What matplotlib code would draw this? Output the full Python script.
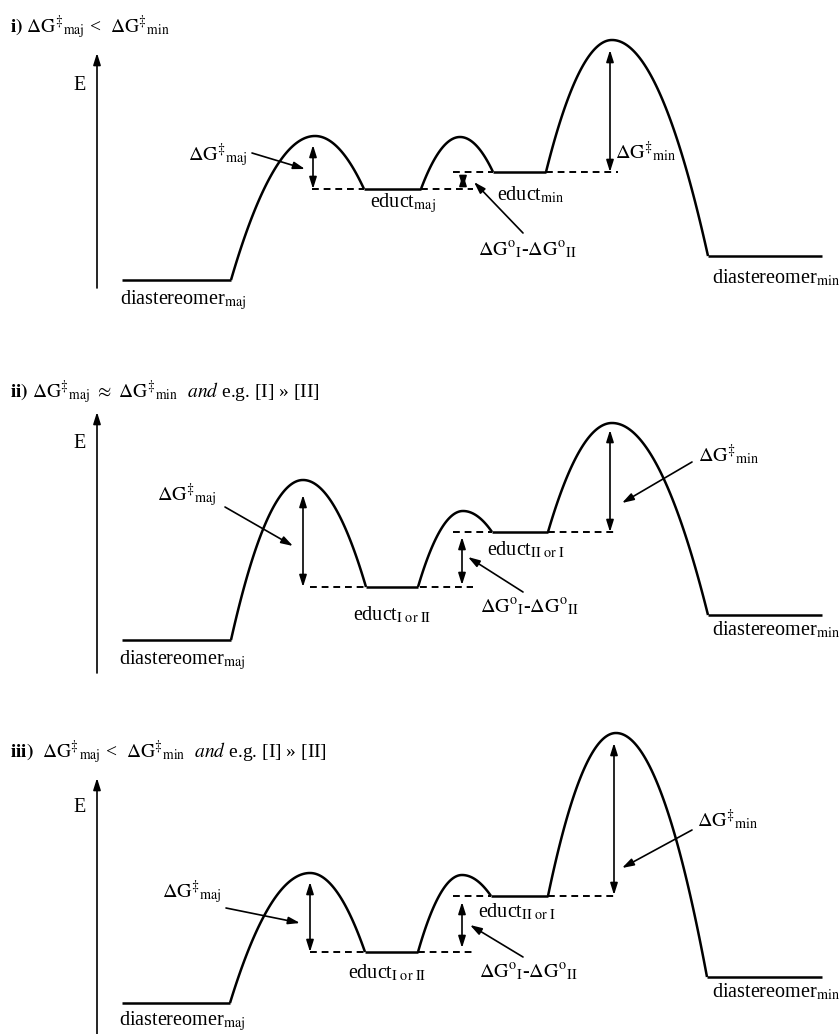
import numpy as np
import matplotlib.pyplot as plt

plt.rcParams['font.family'] = ['Liberation Serif', 'DejaVu Serif']
plt.rcParams['mathtext.fontset'] = 'stix'

# pixel bands (top, bottom) of the three panels
bands = [(0, 340), (340, 690), (690, 1034)]

dg_maj = r'$\Delta\mathrm{G}^{\ddagger}{}_{\mathrm{maj}}$'
dg_min = r'$\Delta\mathrm{G}^{\ddagger}{}_{\mathrm{min}}$'
dg_diff = r'$\Delta\mathrm{G}^{\mathrm{o}}{}_{\mathrm{I}}$-$\Delta\mathrm{G}^{\mathrm{o}}{}_{\mathrm{II}}$'

titles = [
    r'$\mathbf{i)}$ ' + dg_maj + ' <  ' + dg_min,
    r'$\mathbf{ii)}$ ' + dg_maj + r' $\approx$ ' + dg_min + r'  $\mathit{and}$ e.g. [I] » [II]',
    r'$\mathbf{iii)}$  ' + dg_maj + ' <  ' + dg_min + r'  $\mathit{and}$ e.g. [I] » [II]',
]
title_pos = [(10, 313), (10, 298), (10, 282)]

# minima: diastereomer_maj, educt_a, educt_b, diastereomer_min
plateau_x = [
    [(122, 231), (364, 421), (493, 546), (708, 822)],
    [(122, 231), (366, 418), (492, 548), (708, 822)],
    [(122, 230), (365, 418), (491, 548), (707, 822)],
]
min_E = [[60, 151, 168, 84], [50, 103, 158, 75], [31, 82, 138, 57]]
# transition states
peak_x = [[315, 460, 612], [303, 463, 612], [310, 462, 616]]
peak_E = [[204, 203, 300], [210, 179, 267], [161, 159, 301]]

# dashed reference lines: (x0, x1, level index)
dash_x = [
    [(312, 364, 1), (421, 473, 1), (453, 493, 2), (546, 618, 2)],
    [(310, 366, 1), (420, 473, 1), (453, 492, 2), (548, 618, 2)],
    [(310, 365, 1), (418, 473, 1), (453, 491, 2), (548, 618, 2)],
]

# double arrows: x, top E, bottom E
barrier_x = [[313, 463, 610], [303, 462, 610], [310, 462, 614]]
barrier_top = [[195, 166, 290], [195, 153, 260], [152, 132, 291]]
barrier_bot = [[151, 152, 168], [103, 105, 158], [82, 86, 139]]

educt_names = [
    (r'educt$_{\mathrm{maj}}$', r'educt$_{\mathrm{min}}$'),
    (r'educt$_{\mathrm{I\ or\ II}}$', r'educt$_{\mathrm{II\ or\ I}}$'),
    (r'educt$_{\mathrm{I\ or\ II}}$', r'educt$_{\mathrm{II\ or\ I}}$'),
]
# label anchor points (x left, E centre)
lab_dgmaj = [(188, 185), (157, 195), (162, 142)]
lab_educt_a = [(370, 137), (353, 75), (348, 61)]
lab_educt_b = [(497, 145), (487, 140), (478, 122)]
lab_diff = [(478, 90), (480, 83), (479, 62)]
lab_dgmin = [(615, 188), (698, 235), (697, 214)]
lab_dmin = [(712, 62), (712, 60), (712, 42)]
lab_dmaj = [(120, 40), (119, 30), (119, 13)]
lab_E = [(80, 254), (80, 247), (80, 226)]
# pointer arrows (from, to)
ptr_dgmaj = [((252, 187), (305, 171)), ((225, 183), (293, 144)), ((226, 126), (300, 111))]
ptr_diff = [((523, 107), (474, 158)), ((523, 98), (468, 133)), ((523, 77), (470, 109))]
ptr_dgmin = [None, ((692, 228), (622, 187)), ((692, 204), (622, 166))]
# energy axis extent
axis_E = [(52, 287), (17, 278), (0, 256)]
axis_x = 97

W, H = 840, 1034
fig = plt.figure(figsize=(8.4, 10.34), dpi=100)

fs = 14.5
fs_title = 14
dbl = dict(arrowstyle='<|-|>,head_length=0.7,head_width=0.22', color='k', lw=1.2,
           shrinkA=0, shrinkB=0)
single = dict(arrowstyle='-|>,head_length=0.7,head_width=0.22', color='k', lw=1.2,
              shrinkA=0, shrinkB=0)


def half(ax, xv, ev, x_end, e_end):
    # parabola with vertex at the peak, ending at the plateau edge
    xs = np.linspace(x_end, xv, 60)
    es = ev - (ev - e_end) * ((xs - xv) / (x_end - xv)) ** 2
    ax.plot(xs, es, color='k', lw=1.8, solid_capstyle='butt')


for p, (top, bot) in enumerate(bands):
    hgt = bot - top
    ax = fig.add_axes([0, 1 - bot / H, 1, hgt / H])
    ax.set_xlim(0, W)
    ax.set_ylim(0, hgt)
    ax.axis('off')

    # plateaus
    for (x0, x1), e in zip(plateau_x[p], min_E[p]):
        ax.plot([x0, x1], [e, e], color='k', lw=1.8, solid_capstyle='butt')
    # barriers
    for i in range(3):
        half(ax, peak_x[p][i], peak_E[p][i], plateau_x[p][i][1], min_E[p][i])
        half(ax, peak_x[p][i], peak_E[p][i], plateau_x[p][i + 1][0], min_E[p][i + 1])
    # dashed levels
    for x0, x1, k in dash_x[p]:
        ax.plot([x0, x1], [min_E[p][k]] * 2, color='k', lw=1.4,
                linestyle=(0, (3.5, 2.5)))
    # barrier arrows
    for xa, et, eb in zip(barrier_x[p], barrier_top[p], barrier_bot[p]):
        ax.annotate('', xy=(xa, eb), xytext=(xa, et), arrowprops=dbl)
    # energy axis
    ax.annotate('', xy=(axis_x, axis_E[p][1]), xytext=(axis_x, axis_E[p][0]),
                arrowprops=single)
    ax.text(*lab_E[p], 'E', fontsize=fs, ha='center', va='center')

    # labels
    ax.text(*title_pos[p], titles[p], fontsize=fs_title, ha='left', va='center')
    ax.text(*lab_dgmaj[p], dg_maj, fontsize=fs, ha='left', va='center')
    ax.text(*lab_dgmin[p], dg_min, fontsize=fs, ha='left', va='center')
    ax.text(*lab_diff[p], dg_diff, fontsize=fs, ha='left', va='center')
    ax.text(*lab_educt_a[p], educt_names[p][0], fontsize=fs, ha='left', va='center')
    ax.text(*lab_educt_b[p], educt_names[p][1], fontsize=fs, ha='left', va='center')
    ax.text(*lab_dmaj[p], r'diastereomer$_{\mathrm{maj}}$', fontsize=fs, ha='left', va='center')
    ax.text(*lab_dmin[p], r'diastereomer$_{\mathrm{min}}$', fontsize=fs, ha='left', va='center')

    # pointer arrows
    for ptr in (ptr_dgmaj[p], ptr_diff[p], ptr_dgmin[p]):
        if ptr is not None:
            ax.annotate('', xy=ptr[1], xytext=ptr[0], arrowprops=single)

fig.savefig('out.png', dpi=100, facecolor='white')
